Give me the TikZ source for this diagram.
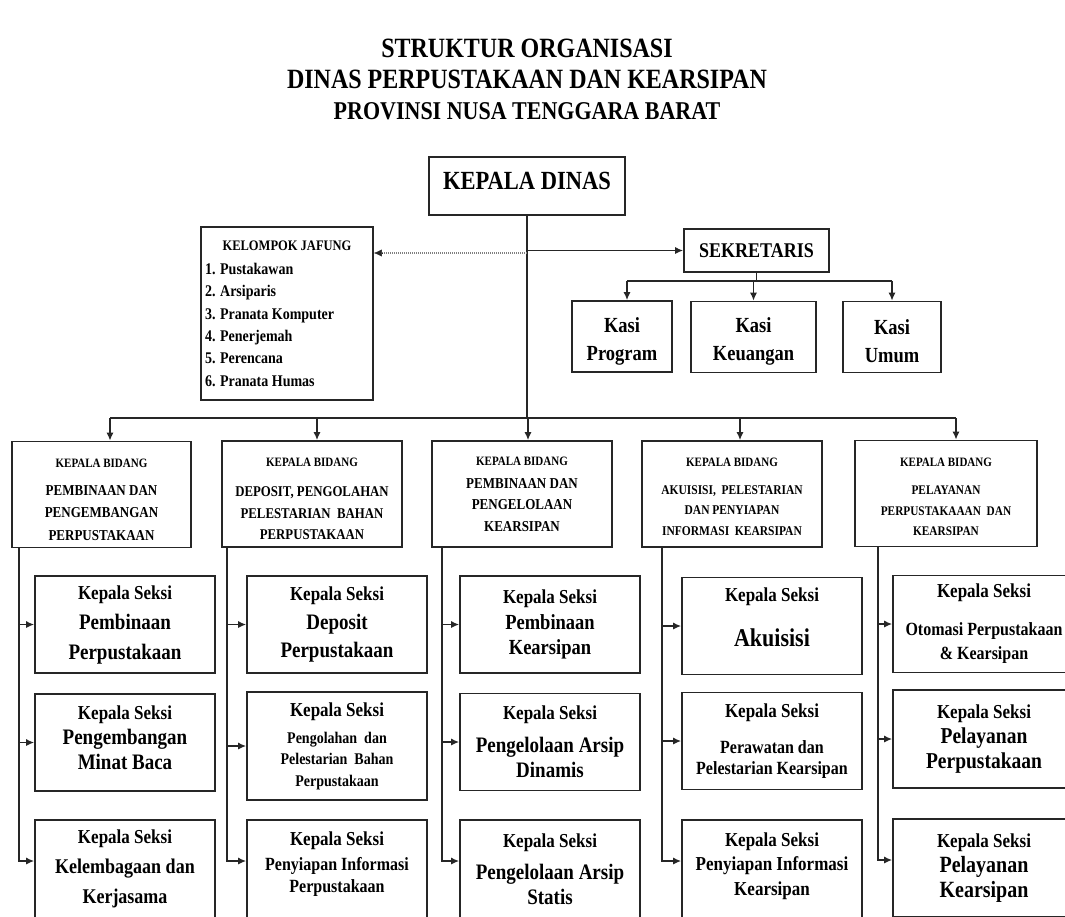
\documentclass[tikz,border=0pt]{standalone}
\usepackage{fontspec}
\setmainfont{Liberation Serif}[FakeStretch=0.86]
\usetikzlibrary{arrows.meta}

% ukuran huruf dikoreksi untuk huruf yang dipersempit
\newcommand\sz[2]{\fontsize{\fpeval{round(#1*1.163,2)}}{#2}\selectfont}
\newcommand\ks{\sz{17}{20}Kepala Seksi}
\newcommand\kb{\sz{11}{13}KEPALA BIDANG}

\tikzset{
  box/.style={draw=black!85, line width=1.6pt, inner sep=0pt, align=center},
  fs/.style 2 args={font=\bfseries\sz{#1}{#2}},
  bidang/.style={box, minimum width=180, minimum height=106},
  seksi/.style={box, minimum width=180, minimum height=97},
  conn/.style={black!85, line width=1.5pt},
  dotconn/.style={black!50, line width=2.5pt, dash pattern=on 1pt off 1pt},
}

\begin{document}
\begin{tikzpicture}[x=1pt, y=-1pt, >={Latex[length=8pt,width=7pt]}]
    \useasboundingbox (0,0) rectangle (1065,916);
    \clip (0,0) rectangle (1065,916);

    % judul
    \node[fs={24}{31}, align=center] (title) at (527,79)
        {STRUKTUR ORGANISASI\\DINAS PERPUSTAKAAN DAN KEARSIPAN\\
         \sz{22}{31}PROVINSI NUSA TENGGARA BARAT};

    % pimpinan
    \node[box, fs={22.5}{27}, minimum width=196, minimum height=58, text depth=10] (kadis)
        at (527,186) {KEPALA DINAS};
    \node[box, fs={14}{22.4}, minimum width=172, minimum height=173, inner xsep=4pt,
          align=left] (jafung) at (287,313.5)
        {\makebox[164pt]{\sz{12.5}{15}KELOMPOK JAFUNG}\\[1.6pt]
         1. Pustakawan\\2. Arsiparis\\3. Pranata Komputer\\
         4. Penerjemah\\5. Perencana\\6. Pranata Humas};
    \node[box, fs={18}{22}, minimum width=145, minimum height=43] (sek) at (756.5,250.5)
        {SEKRETARIS};
    \node[box, fs={18.5}{28}, minimum width=100, minimum height=71] (kprog) at (622,336.5)
        {\rule{0pt}{24pt}Kasi\\Program};
    \node[box, fs={18.5}{28}, minimum width=125, minimum height=71] (kkeu) at (753.5,337)
        {\rule{0pt}{24pt}Kasi\\Keuangan};
    \node[box, fs={18.5}{28}, minimum width=98, minimum height=71] (kumum) at (892,337)
        {\rule{0pt}{24pt}Kasi\\Umum};

    % bidang
    \node[bidang, fs={13}{22.5}, minimum width=179] (b1) at (101.5,494.5)
        {\rule{0pt}{18.5pt}\kb\\[5.5pt]PEMBINAAN DAN\\PENGEMBANGAN\\PERPUSTAKAAN};
    \node[bidang, fs={12.8}{21.5}] (b2) at (312,494)
        {\rule{0pt}{18.5pt}\kb\\[8.5pt]DEPOSIT, PENGOLAHAN\\PELESTARIAN\ \ BAHAN\\PERPUSTAKAAN};
    \node[bidang, fs={13}{21.5}] (b3) at (522,494)
        {\kb\\[1.5pt]PEMBINAAN DAN\\PENGELOLAAN\\KEARSIPAN};
    \node[bidang, fs={11.5}{20.5}] (b4) at (732,494)
        {\rule{0pt}{13.5pt}\kb\\[7.5pt]AKUISISI,\ \ PELESTARIAN\\DAN PENYIAPAN\\INFORMASI\ \ KEARSIPAN};
    \node[bidang, fs={11.3}{20.5}, minimum width=182] (b5) at (946,493.5)
        {\rule{0pt}{15.5pt}\kb\\[7.5pt]PELAYANAN\\PERPUSTAKAAAN\ \ DAN\\KEARSIPAN};

    % seksi
    \node[seksi, fs={19}{30}] (s11) at (125,624.5)
        {\ks\\Pembinaan\\Perpustakaan};
    \node[seksi, fs={19}{25}, text depth=10] (s12) at (125,742.5)
        {\ks\\Pengembangan\\Minat Baca};
    \node[seksi, fs={18}{30}, minimum height=98] (s13) at (125,869)
        {\ks\\Kelembagaan dan\\Kerjasama};

    \node[seksi, fs={19}{28.5}] (s21) at (337,624.5)
        {\ks\\Deposit\\Perpustakaan};
    \node[seksi, fs={14}{21.5}, minimum height=108] (s22) at (337,746)
        {\ks\\[5.5pt]Pengolahan\ \ dan\\Pelestarian\ \ Bahan\\Perpustakaan};
    \node[seksi, fs={16}{22}, minimum height=98, text depth=13] (s23) at (337,869)
        {\ks\\[3pt]Penyiapan Informasi\\Perpustakaan};

    \node[seksi, fs={18.5}{25.5}] (s31) at (550,624.5)
        {\ks\\Pembinaan\\Kearsipan};
    \node[seksi, fs={19}{25}] (s32) at (550,742)
        {\ks\\[8pt]Pengelolaan Arsip\\Dinamis};
    \node[seksi, fs={19}{25}, minimum height=98] (s33) at (550,869)
        {\ks\\[7pt]Pengelolaan Arsip\\Statis};

    \node[seksi, fs={22}{45}, text depth=17] (s41) at (772,626)
        {\ks\\Akuisisi};
    \node[seksi, fs={16}{21}] (s42) at (772,741)
        {\ks\\[15pt]Perawatan dan\\Pelestarian Kearsipan};
    \node[seksi, fs={17}{24.5}, minimum height=98, text depth=10] (s43) at (772,869)
        {\ks\\Penyiapan Informasi\\Kearsipan};

    \node[seksi, fs={16}{24}, minimum width=182] (s51) at (984,624)
        {\ks\\[14pt]Otomasi Perpustakaan\\\&{} Kearsipan};
    \node[seksi, fs={19.5}{25}, minimum width=182, minimum height=98] (s52) at (984,739)
        {\ks\\Pelayanan\\Perpustakaan};
    \node[seksi, fs={20}{25}, minimum width=182, minimum height=98] (s53) at (984,868)
        {\ks\\Pelayanan\\Kearsipan};

    % garis komando
    \coordinate (bus) at (527,418);
    \coordinate (jf) at (527,253);
    \draw[conn] (kadis.south) -- (bus);
    \draw[conn, ->] (kadis.south |- sek.west) -- (sek.west);
    \draw[dotconn] (jf) -- ([xshift=8pt]jafung.east |- jf);
    \draw[->, black!85] ([xshift=8pt]jafung.east |- jf) -- (jafung.east |- jf);

    \draw[conn] (sek.south) -- ++(0,8) coordinate (sbus);
    \draw[conn] ([xshift=5pt]kprog.north |- sbus) -- (kumum.north |- sbus);
    \draw[conn, ->] ([xshift=5pt]kprog.north |- sbus) -- ([xshift=5pt]kprog.north);
    \foreach \n in {kkeu,kumum}
        \draw[conn, ->] (\n.north |- sbus) -- (\n.north);

    \draw[conn] ([xshift=8.5pt]b1.north |- bus) -- ([xshift=10pt]b5.north |- bus);
    \foreach \i/\dx in {1/8.5,2/5,3/6,4/8,5/10}
        \draw[conn, ->] ([xshift=\dx pt]b\i.north |- bus) -- ([xshift=\dx pt]b\i.north);

    \foreach \i/\dx in {1/8,2/6,3/11,4/21,5/24} {
        \coordinate (v\i) at ([xshift=\dx pt]b\i.south west);
        \draw[conn, ->] (v\i |- s\i1.west) -- (s\i1.west);
        \draw[conn, ->] (v\i |- s\i2.west) -- (s\i2.west);
        \draw[conn, ->] (v\i) |- ([yshift=8pt]s\i3.west);
    }
\end{tikzpicture}
\end{document}
